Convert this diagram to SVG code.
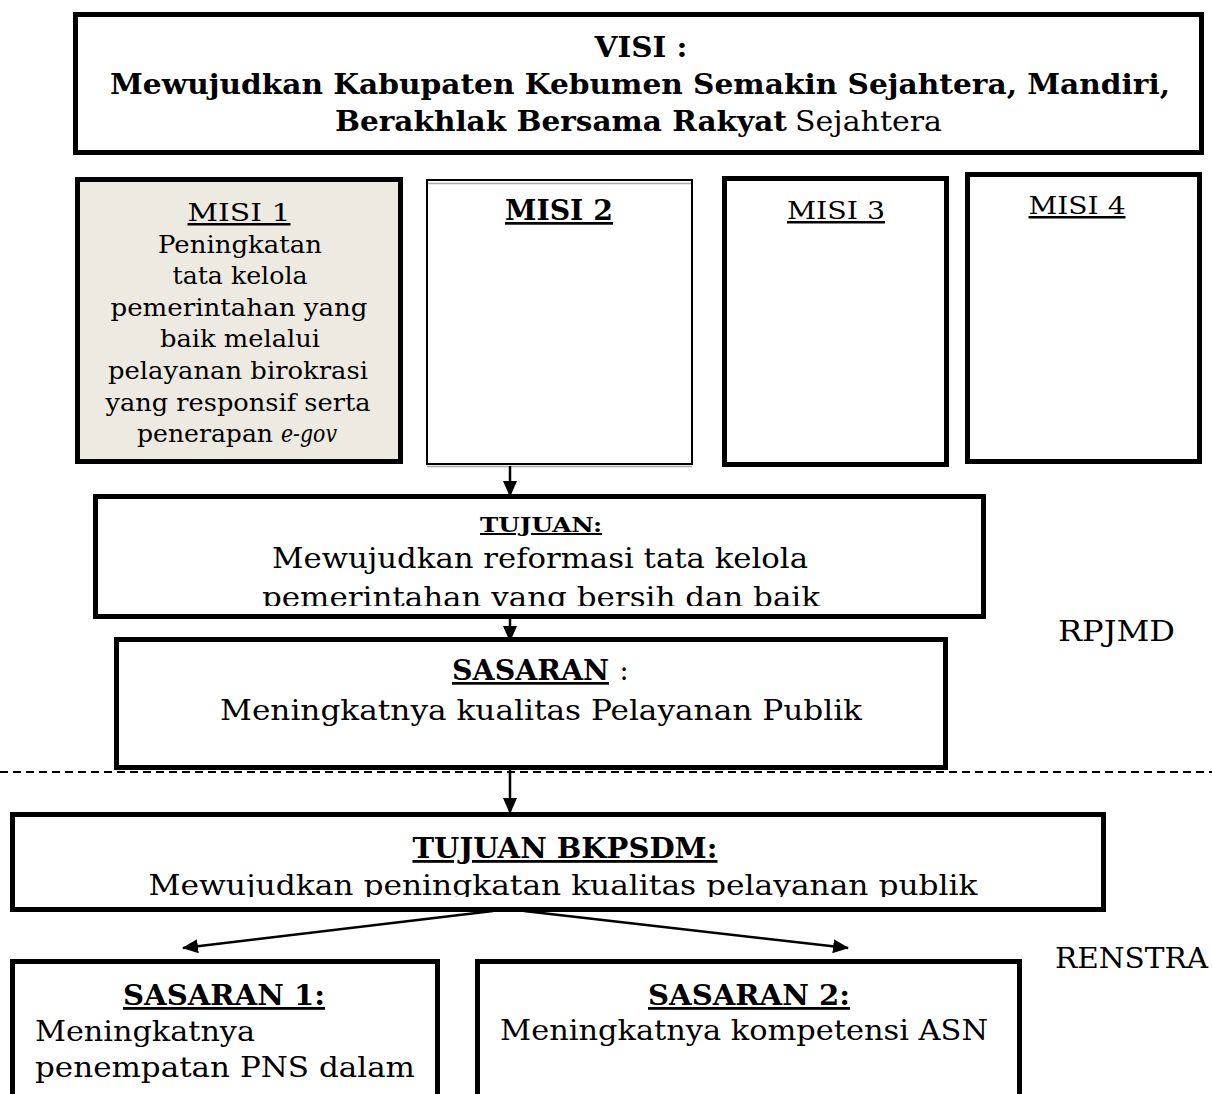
<svg xmlns="http://www.w3.org/2000/svg" width="1212" height="1094" viewBox="0 0 1212 1094">
<style>
text{font-family:"DejaVu Serif","Liberation Serif",serif;fill:#000}
.b{font-weight:bold}
.u{text-decoration:underline}
.box{fill:#fff;stroke:#000;stroke-width:5}
.thin{fill:#fff;stroke:#000;stroke-width:2}
.c{text-anchor:middle}
.edge{stroke:#000;stroke-width:2.5;fill:none}
</style>
<defs>
<marker id="ah2" markerWidth="16" markerHeight="14" refX="15" refY="7" orient="auto" markerUnits="userSpaceOnUse" viewBox="0 0 16 14">
<path d="M0,0 L16,7 L0,14 z" fill="#000"/>
</marker>
<clipPath id="cT"><rect x="95" y="496" width="889" height="110"/></clipPath>
<clipPath id="cB"><rect x="12" y="814" width="1092" height="83"/></clipPath>
</defs>

<g id="visi">
<rect class="box" x="75.5" y="14.5" width="1126" height="138"/>
<text class="b c" x="641" y="57" font-size="27" textLength="93" lengthAdjust="spacingAndGlyphs">VISI :</text>
<text class="b c" x="640" y="94" font-size="27" textLength="1060" lengthAdjust="spacingAndGlyphs">Mewujudkan Kabupaten Kebumen Semakin Sejahtera, Mandiri,</text>
<text x="335" y="131" font-size="27"><tspan class="b" textLength="452" lengthAdjust="spacingAndGlyphs">Berakhlak Bersama Rakyat</tspan><tspan x="795" textLength="147" lengthAdjust="spacingAndGlyphs">Sejahtera</tspan></text>
</g>

<g id="misi1">
<rect class="box" x="77.5" y="179.5" width="323" height="282" style="fill:#EDEBE1"/>
<text class="c u" x="239" y="221" font-size="25" textLength="103" lengthAdjust="spacingAndGlyphs">MISI 1</text>
<text class="c" x="240" y="253" font-size="24" textLength="164" lengthAdjust="spacingAndGlyphs">Peningkatan</text>
<text class="c" x="240" y="284" font-size="24" textLength="135" lengthAdjust="spacingAndGlyphs">tata kelola</text>
<text class="c" x="239" y="316" font-size="24" textLength="257" lengthAdjust="spacingAndGlyphs">pemerintahan yang</text>
<text class="c" x="240" y="347" font-size="24" textLength="160" lengthAdjust="spacingAndGlyphs">baik melalui</text>
<text class="c" x="238" y="379" font-size="24" textLength="260" lengthAdjust="spacingAndGlyphs">pelayanan birokrasi</text>
<text class="c" x="238" y="411" font-size="24" textLength="265" lengthAdjust="spacingAndGlyphs">yang responsif serta</text>
<text x="137" y="442" font-size="24"><tspan textLength="136" lengthAdjust="spacingAndGlyphs">penerapan</tspan><tspan x="281" font-style="italic" textLength="56" lengthAdjust="spacingAndGlyphs">e-gov</tspan></text>
</g>

<g id="misi2">
<rect class="thin" x="427" y="180" width="265" height="284"/>
<line x1="428" y1="183.5" x2="691" y2="183.5" stroke="#aaa" stroke-width="1.5"/>
<line x1="427" y1="466.5" x2="692" y2="466.5" stroke="#aaa" stroke-width="1.5"/>
<text class="b c u" x="559" y="220" font-size="27" textLength="108" lengthAdjust="spacingAndGlyphs">MISI 2</text>
</g>

<g id="misi3">
<rect class="box" x="724.5" y="178.5" width="222" height="286"/>
<text class="c u" x="836" y="219" font-size="25" textLength="98" lengthAdjust="spacingAndGlyphs">MISI 3</text>
</g>

<g id="misi4">
<rect class="box" x="967.5" y="174.5" width="232" height="287"/>
<text class="c u" x="1077" y="214" font-size="25" textLength="97" lengthAdjust="spacingAndGlyphs">MISI 4</text>
</g>

<g id="tujuan">
<rect class="box" x="95.5" y="496.5" width="888" height="120"/>
<text class="b c u" x="541" y="532" font-size="20" textLength="122" lengthAdjust="spacingAndGlyphs">TUJUAN:</text>
<text class="c" x="540" y="568" font-size="28" textLength="536" lengthAdjust="spacingAndGlyphs">Mewujudkan reformasi tata kelola</text>
<text class="c" x="541" y="607" font-size="28" clip-path="url(#cT)" textLength="558" lengthAdjust="spacingAndGlyphs">pemerintahan yang bersih dan baik</text>
</g>

<g id="sasaran">
<rect class="box" x="116.5" y="639.5" width="829" height="128"/>
<text x="452" y="680" font-size="27"><tspan class="b u" textLength="157" lengthAdjust="spacingAndGlyphs">SASARAN</tspan><tspan x="611"> :</tspan></text>
<text class="c" x="541" y="720" font-size="28" textLength="642" lengthAdjust="spacingAndGlyphs">Meningkatnya kualitas Pelayanan Publik</text>
</g>

<g id="rpjmd">
<text x="1058" y="641" font-size="27" textLength="117" lengthAdjust="spacingAndGlyphs">RPJMD</text>
</g>

<g id="separator">
<line x1="0" y1="772" x2="1212" y2="772" stroke="#000" stroke-width="1.8" stroke-dasharray="8,5"/>
</g>

<g id="tujuan-bkpsdm">
<rect class="box" x="12.5" y="814.5" width="1091" height="95"/>
<text class="b c u" x="565" y="858" font-size="28" textLength="305" lengthAdjust="spacingAndGlyphs">TUJUAN BKPSDM:</text>
<text class="c" x="563" y="895" font-size="28" clip-path="url(#cB)" textLength="829" lengthAdjust="spacingAndGlyphs">Mewujudkan peningkatan kualitas pelayanan publik</text>
</g>

<g id="renstra">
<text x="1055" y="968" font-size="27" textLength="153" lengthAdjust="spacingAndGlyphs">RENSTRA</text>
</g>

<g id="sasaran1">
<rect class="box" x="12.5" y="961.5" width="425" height="200"/>
<text class="b c u" x="224" y="1005" font-size="28" textLength="202" lengthAdjust="spacingAndGlyphs">SASARAN 1:</text>
<text x="35" y="1041" font-size="28" textLength="220" lengthAdjust="spacingAndGlyphs">Meningkatnya</text>
<text x="35" y="1077" font-size="28" textLength="380" lengthAdjust="spacingAndGlyphs">penempatan PNS dalam</text>
</g>

<g id="sasaran2">
<rect class="box" x="477.5" y="961.5" width="542" height="200"/>
<text class="b c u" x="749" y="1005" font-size="28" textLength="202" lengthAdjust="spacingAndGlyphs">SASARAN 2:</text>
<text class="c" x="744" y="1040" font-size="28" textLength="488" lengthAdjust="spacingAndGlyphs">Meningkatnya kompetensi ASN</text>
</g>

<g id="connectors">
<line class="edge" x1="510" y1="466" x2="510" y2="496" marker-end="url(#ah2)"/>
<line class="edge" x1="510" y1="619" x2="510" y2="641" marker-end="url(#ah2)"/>
<line class="edge" x1="510" y1="770" x2="510" y2="813" marker-end="url(#ah2)"/>
<line class="edge" x1="493" y1="911" x2="183" y2="948" marker-end="url(#ah2)"/>
<line class="edge" x1="524" y1="911" x2="848" y2="948" marker-end="url(#ah2)"/>
</g>
</svg>
